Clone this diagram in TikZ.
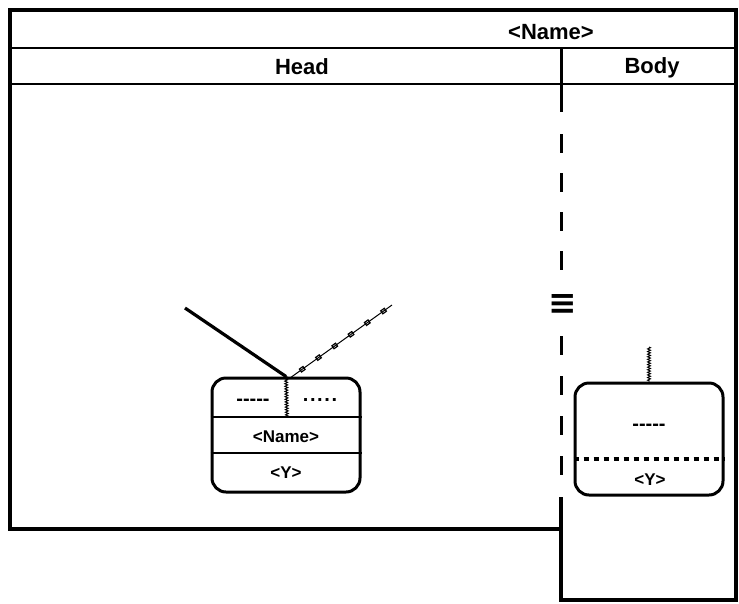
\documentclass[tikz,border=0pt]{standalone}
\usepackage{fontspec}
\newfontfamily\lblfont{Liberation Sans}[BoldFont={Liberation Sans Bold}]
\newfontfamily\symfont{DejaVu Sans}[BoldFont={DejaVu Sans Bold}]
\usetikzlibrary{decorations.pathmorphing,decorations.markings}
\tikzset{
  frame/.style={line width=3.5pt, line join=miter},
  rule/.style={line width=2.8pt},
  boxshape/.style={draw, line width=3pt, rounded corners=14pt, inner sep=0pt},
  hdr/.style={anchor=base, inner sep=0pt, font=\lblfont\bfseries\fontsize{22}{26}\selectfont},
  lbl/.style={anchor=base, inner sep=0pt, font=\lblfont\bfseries\fontsize{17}{20}\selectfont},
  ph/.style={anchor=base, inner sep=0pt, font=\lblfont\bfseries\fontsize{20}{22}\selectfont},
  wiggle/.style={line width=1pt, decorate, decoration={zigzag, amplitude=1.4pt, segment length=2.6pt}},
  chain/.style={line width=1pt, postaction={decorate}, decoration={markings,
      mark=between positions 0.12 and 0.95 step 20pt with {\draw[line width=1.2pt] (-2.2pt,-1.8pt) rectangle (2.2pt,1.8pt);}}},
  divdash/.style={line width=3pt},
}
\begin{document}
\begin{tikzpicture}[x=1pt,y=-1pt]
\useasboundingbox (0,0) rectangle (739,603);
% outer frame
\draw[frame] (561,497) -- (561,600) -- (736,600) -- (736,10) -- (10,10) -- (10,529) -- (561,529);
\draw[rule] (10,48) -- (736,48);
\draw[rule] (10,84) -- (736,84);
\draw[divdash] (561,48) -- (561,112);
\foreach \yy in {134,173,212,251,336,376,416,456}
  \draw[divdash] (561,\yy) -- (561,\yy+19);
\node[inner sep=0pt, font=\symfont\bfseries\fontsize{34}{34}\selectfont] (equiv) at (563,304) {≡};
% headers
\node[hdr] (title) at (551,39) {<Name>};
\node[hdr] (head) at (302,74) {Head};
\node[hdr] (body) at (652,73) {Body};
% head box
\node[boxshape, minimum width=148pt, minimum height=114pt] (hbox) at (286,435) {};
\draw[rule] (hbox.west |- 0,417) -- (hbox.east |- 0,417);
\draw[rule] (hbox.west |- 0,453) -- (hbox.east |- 0,453);
\node[lbl] (hname) at (286,442) {<Name>};
\node[lbl] (hy) at (286,478) {<Y>};
\node[ph] (hdash) at (253,405) {-----};
\node[ph] (hdots) at (320,401) {.\kern1.6pt.\kern1.6pt.\kern1.6pt.\kern1.6pt.};
\coordinate (hz) at (287,417);
\coordinate (hjoin) at (290,378);
\draw[wiggle] (hbox.north) -- (hz);
\coordinate (lend) at (185,308);
\coordinate (rend) at (392,305);
\draw[line width=3.2pt] (lend) -- (hbox.north);
\draw[chain] (hjoin) -- (rend);
% body box
\node[boxshape, minimum width=148pt, minimum height=112pt] (bbox) at (649,439) {};
\draw[line width=3.5pt, dash pattern=on 5pt off 5pt] (bbox.west |- 0,459) -- (bbox.east |- 0,459);
\node[ph] (bdash) at (649,430) {-----};
\node[lbl] (by) at (650,485) {<Y>};
\coordinate (bz) at (649,347);
\draw[wiggle] (bz) -- (bbox.north);
\end{tikzpicture}
\end{document}
